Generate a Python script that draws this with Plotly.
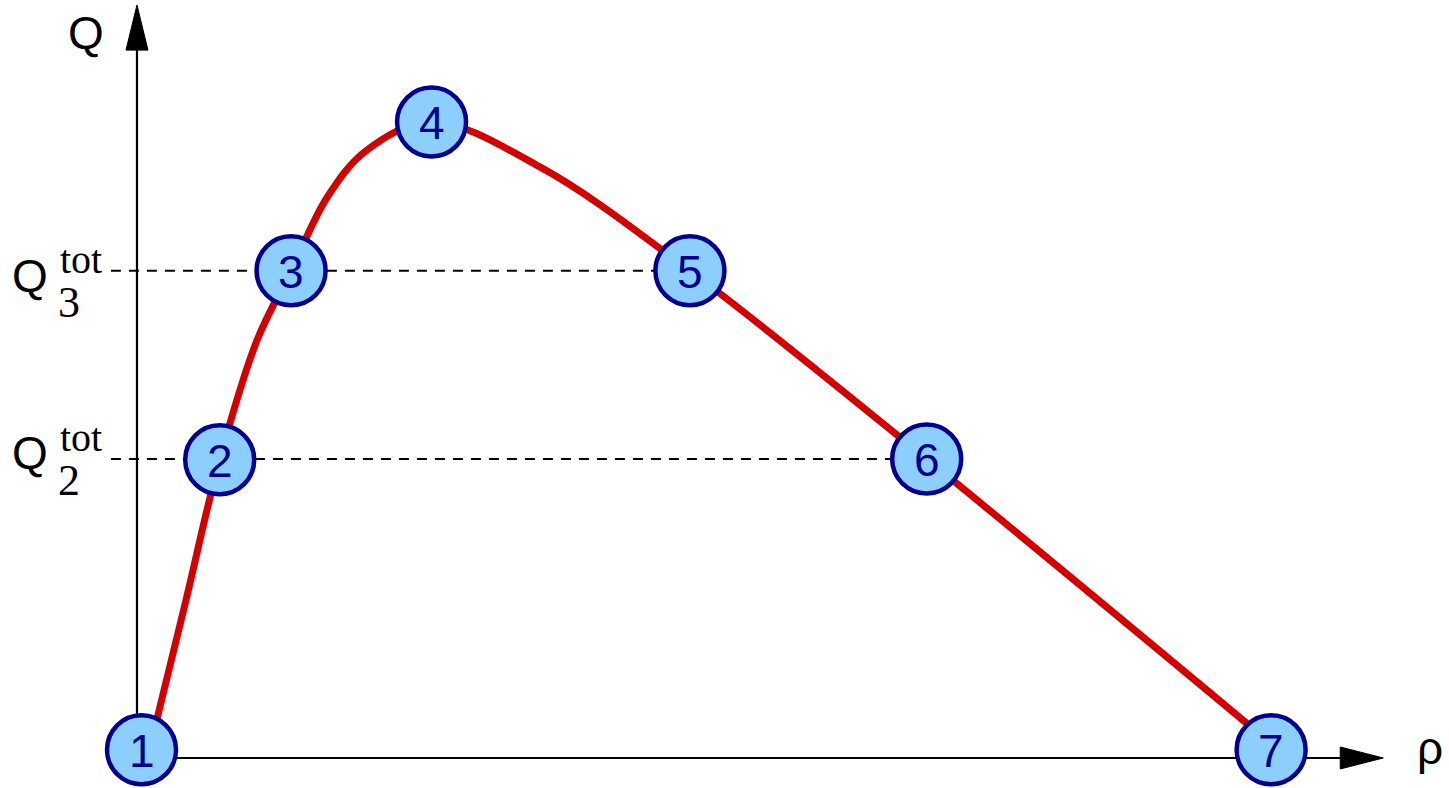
import plotly.graph_objects as go

# Numbered operating points on the flow-density diagram
point_labels = ["1", "2", "3", "4", "5", "6", "7"]
point_rho = [0.4, 7.3, 13.6, 26.0, 48.8, 69.7, 100.1]
point_q = [1.3, 46.9, 76.6, 100.0, 76.6, 47.0, 1.3]

# Flow Q as a function of density rho
curve_rho = [1.1, 4.2, 7.3, 10.6, 13.6, 16.8, 20.3, 26.0, 35.6, 48.8, 69.7, 99.6]
curve_q = [1.3, 23.9, 46.9, 65.7, 76.6, 88.2, 95.6, 100.0, 92.9, 76.6, 47.0, 3.0]

# Total-flow levels marked on the Q axis, with their end densities
level_q = [76.6, 47.0]
level_rho_end = [48.8, 69.7]
level_subscripts = ["3", "2"]

# Axis extents (data units)
X_MIN, X_MAX = -12.09, 115.80
Y_MIN, Y_MAX = -4.72, 119.18
W, H = 1449, 788

RED = "#d40000"
NAVY = "#000090"
FILL = "#8ccfff"
SANS = "Liberation Sans, Arial, sans-serif"
SERIF = "Liberation Serif, Times New Roman, serif"

fig = go.Figure()

# dashed guide lines for the total-flow levels
for q, r_end in zip(level_q, level_rho_end):
    fig.add_trace(go.Scatter(
        x=[-2.3, r_end], y=[q, q], mode="lines",
        line=dict(color="black", width=2, dash="10px,8px"),
        hoverinfo="skip", showlegend=False))

# axes with arrowheads
fig.add_shape(type="line", x0=0, y0=0, x1=0, y1=111.3,
              line=dict(color="black", width=2.2), layer="below")
fig.add_shape(type="line", x0=0, y0=0, x1=106.2, y1=0,
              line=dict(color="black", width=2.2), layer="below")
fig.add_shape(type="path", path="M -0.97 111.3 L 0 118.4 L 0.97 111.3 Z",
              fillcolor="black", line=dict(color="black", width=1), layer="below")
fig.add_shape(type="path", path="M 106.2 -1.73 L 110.0 0 L 106.2 1.73 Z",
              fillcolor="black", line=dict(color="black", width=1), layer="below")

# flow-density curve
fig.add_trace(go.Scatter(
    x=curve_rho, y=curve_q, mode="lines",
    line=dict(color=RED, width=7, shape="spline", smoothing=1.0),
    hoverinfo="skip", showlegend=False))

# numbered points
fig.add_trace(go.Scatter(
    x=point_rho, y=point_q, mode="markers",
    marker=dict(size=69, color=FILL, line=dict(color=NAVY, width=4.5)),
    hoverinfo="skip", showlegend=False))
for lab, r, q in zip(point_labels, point_rho, point_q):
    fig.add_annotation(
        text=lab, x=r, y=q, xref="x", yref="y",
        xanchor="center", yanchor="middle", showarrow=False, yshift=-1,
        font=dict(family=SANS, size=46, color=NAVY))


def px_annot(text, px, py, size, family):
    fig.add_annotation(
        text=text, x=px / W, y=1 - py / H, xref="paper", yref="paper",
        xanchor="center", yanchor="middle", showarrow=False,
        font=dict(family=family, size=size, color="black"))


# axis titles
px_annot("Q", 86, 33, 46, SANS)
px_annot("ρ", 1430, 748, 46, SANS)

# level labels Q_n^tot
for q, sub in zip(level_q, level_subscripts):
    py = 758 - q * 6.36
    off = 5 if sub == "3" else -6
    px_annot("Q", 30, py + off, 46, SANS)
    px_annot("tot", 81, py + off - 16, 40, SERIF)
    px_annot(sub, 69, py + off + 27, 44, SERIF)

fig.update_xaxes(range=[X_MIN, X_MAX], visible=False, fixedrange=True)
fig.update_yaxes(range=[Y_MIN, Y_MAX], visible=False, fixedrange=True)
fig.update_layout(
    width=W, height=H, margin=dict(l=0, r=0, t=0, b=0),
    plot_bgcolor="white", paper_bgcolor="white")

fig.write_html("out.html")
